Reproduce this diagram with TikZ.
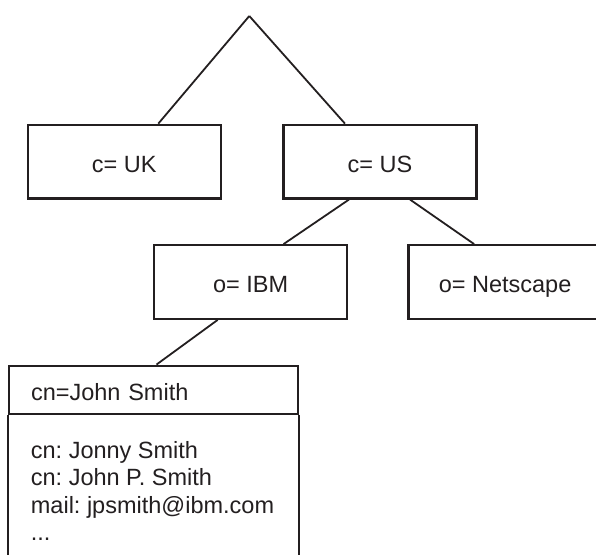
\documentclass[tikz,border=0pt]{standalone}
\usepackage{fontspec}
\setmainfont{Liberation Sans}
\frenchspacing
\definecolor{ink}{RGB}{35,31,32}
\begin{document}
\begin{tikzpicture}[x=1pt, y=-1pt]
        \tikzstyle{entry}=[draw=ink, line width=2.3pt, text=ink,
            minimum width=193pt, minimum height=73.6pt, inner sep=0pt,
            text height=21pt, text depth=0pt,
            font=\fontsize{23.5}{27.5}\selectfont]
        \tikzstyle{attrs}=[text=ink, inner sep=0pt, align=left,
            font=\fontsize{23.5}{27.5}\selectfont]
        \tikzstyle{link}=[draw=ink, line width=1.8pt]
        \useasboundingbox (0, 0) rectangle (596, 554);
        \clip (0, 0) rectangle (596, 554);

        \coordinate (root) at (249.3, 16);
        \node[entry] (UK) at (124.3, 161.6) {c= UK};
        \node[entry] (US) at (380, 161.6) {c= US};
        \node[entry] (IBM) at (250.6, 282) {o= IBM};
        \node[entry] (NS) at (505.1, 282) {o= Netscape};
        \node[entry, minimum width=288.4pt, minimum height=48.6pt,
            text width=245pt, align=left] (JS) at (153.5, 390) {cn=John Smith};
        \node[attrs, anchor=north west] (JSattr) at (30.7, 441)
            {cn: Jonny Smith\\cn: John P. Smith\\mail: jpsmith@ibm.com\\...};
        \draw[ink, line width=2.3pt] (JS.south west) -- ++(0, 170) -| (JS.south east);

        \draw[link] (root) to ([xshift=34pt]UK.north);
        \draw[link] (root) to ([xshift=-35pt]US.north);
        \draw[link] ([xshift=-31pt]US.south) to ([xshift=33pt]IBM.north);
        \draw[link] ([xshift=30pt]US.south) to ([xshift=-31pt]NS.north);
        \draw[link] ([xshift=-33pt]IBM.south) to ([xshift=3pt]JS.north);

    \end{tikzpicture}
\end{document}
